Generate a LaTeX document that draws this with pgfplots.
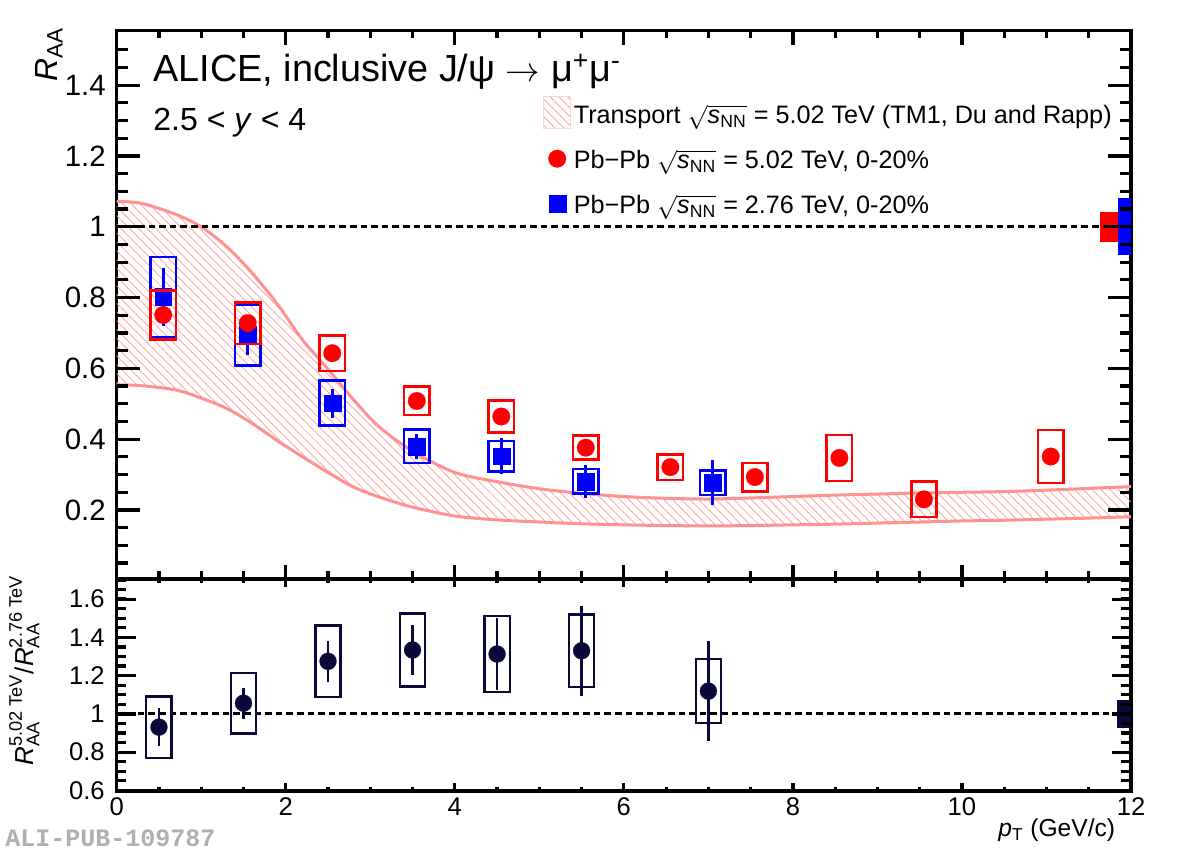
\documentclass[border=0pt]{standalone}
\usepackage{fontspec}
\setmainfont{Liberation Sans}
\newfontfamily\alimono{Liberation Mono}
\usepackage{amsmath}
\usepackage{pgfplots}
\pgfplotsset{compat=1.18}
\usepackage{pgfplotstable}
\usepgfplotslibrary{fillbetween}
\usetikzlibrary{patterns.meta}
\definecolor{band}{RGB}{255,145,145}
\definecolor{hatch}{RGB}{255,150,150}
\definecolor{navy}{RGB}{10,10,58}
\definecolor{aligray}{RGB}{175,175,175}

\pgfplotstableread{
x y
0 1.072
0.3 1.066
0.7 1.035
1.0 1.0
1.3 0.944
1.6 0.870
1.9 0.782
2.2 0.680
2.5 0.598
2.8 0.512
3.1 0.436
3.5 0.366
4.0 0.306
4.5 0.280
5.0 0.260
5.5 0.247
6.0 0.238
6.5 0.233
7.0 0.231
7.5 0.234
8.0 0.238
8.5 0.242
9.0 0.245
9.5 0.248
10.0 0.250
10.5 0.252
11.0 0.256
11.5 0.261
12.0 0.266
}\tabUpper

\pgfplotstableread{
x y
0 0.554
0.3 0.551
0.7 0.539
1.0 0.516
1.3 0.487
1.6 0.445
1.9 0.396
2.2 0.350
2.5 0.306
2.8 0.265
3.1 0.237
3.5 0.208
4.0 0.183
4.5 0.172
5.0 0.166
5.5 0.161
6.0 0.158
6.5 0.156
7.0 0.155
7.5 0.156
8.0 0.158
8.5 0.160
9.0 0.163
9.5 0.166
10.0 0.169
10.5 0.171
11.0 0.174
11.5 0.177
12.0 0.181
}\tabLower

\pgfplotstableread{
x y stat sys
0.55 0.751 0.010 0.070
1.55 0.728 0.010 0.059
2.55 0.643 0.010 0.050
3.55 0.508 0.010 0.040
4.55 0.464 0.010 0.045
5.55 0.376 0.010 0.034
6.55 0.321 0.010 0.036
7.55 0.293 0.010 0.040
8.55 0.347 0.015 0.065
9.55 0.230 0.015 0.050
11.05 0.351 0.018 0.075
}\tabRed

\pgfplotstableread{
x y stat sys
0.55 0.802 0.083 0.113
1.55 0.695 0.057 0.086
2.55 0.502 0.041 0.063
3.55 0.380 0.036 0.047
4.55 0.352 0.051 0.043
5.55 0.281 0.046 0.035
7.05 0.277 0.064 0.035
}\tabBlue

\pgfplotstableread{
x y stat sys
0.5 0.931 0.100 0.160
1.5 1.056 0.080 0.158
2.5 1.275 0.108 0.187
3.5 1.334 0.130 0.190
4.5 1.313 0.190 0.200
5.5 1.330 0.235 0.190
7.0 1.119 0.260 0.167
}\tabRatio

\tikzset{
  hatchpat/.style={pattern={Lines[angle=-45,distance=3.1pt,line width=0.35pt]}, pattern color=hatch},
  tickst/.style={black, line width=1.6pt},
}
\pgfplotsset{
  rootaxis/.style={
    scale only axis, width=507.15pt,
    xmin=0, xmax=12,
    axis line style={line width=1.7pt},
    xtick={0,2,...,12},
    major tick length=0pt, minor tick length=0pt,
    minor tick num=0,
    tick label style={/pgf/number format/assume math mode=true},
  },
  sysplot/.style n args={3}{
    #1, only marks, forget plot, scatter,
    visualization depends on={\thisrow{sys} \as \sys},
    scatter/@pre marker code/.code={%
      \draw[#1, line width=#3, solid] (axis direction cs:-#2,-\sys) rectangle (axis direction cs:#2,\sys);},
    scatter/@post marker code/.code={},
    mark options={line width=0.1pt},
  },
  dashone/.style={black, line width=1.5pt, dash pattern=on 3.3pt off 2pt, forget plot},
}

\begin{document}
\begin{tikzpicture}
% ---------------- top panel ----------------
\begin{axis}[rootaxis, at={(0,0)}, anchor=north west, height=274.15pt,
  ymin=0.005, ymax=1.554,
  ytick={0.2,0.4,0.6,0.8,1,1.2,1.4},
  xticklabels={},
  tick label style={font=\fontsize{14.7}{16}\selectfont},
  yticklabel style={xshift=-2pt},
  ylabel={\textit{R}\textsubscript{AA}},
  ylabel style={at={(axis description cs:-0.0585,1.007)}, anchor=base east, inner sep=0pt, font=\fontsize{16}{18}\selectfont},
  legend style={at={(0.4203,0.881)}, anchor=north west, draw=none, fill=none,
    inner sep=0pt, outer sep=0pt, row sep=3.7pt, column sep=0pt,
    font=\fontsize{12.6}{15}\selectfont,
    nodes={inner sep=1.5pt, text height=10pt, text depth=3.5pt}},
  legend cell align=left,
]
\addplot[name path=up, band, line width=1.5pt, smooth, forget plot] table[x=x,y=y] {\tabUpper};
\addplot[name path=low, band, line width=1.5pt, smooth, forget plot] table[x=x,y=y] {\tabLower};
\addplot[draw=none, hatchpat, forget plot] fill between[of=up and low];
% global uncertainties
\addplot[fill=red, draw=none, forget plot] coordinates {(11.63,0.958) (11.85,0.958) (11.85,1.042) (11.63,1.042)} --cycle;
\addplot[fill=blue, draw=none, forget plot] coordinates {(11.85,0.92) (12.1,0.92) (12.1,1.08) (11.85,1.08)} --cycle;
\addplot[dashone] coordinates {(0,1) (12,1)};
% data
\addplot[sysplot={blue}{0.15}{1.35pt}, mark=square*, mark size=4.2pt,
  error bars/.cd, y dir=both, y explicit, error mark=none, error bar style={line width=1.6pt}]
  table[x=x, y=y, y error=stat] {\tabBlue};
\addplot[sysplot={red}{0.15}{1.35pt}, mark=*, mark size=4.4pt,
  error bars/.cd, y dir=both, y explicit, error mark=none, error bar style={line width=1.6pt}]
  table[x=x, y=y, y error=stat] {\tabRed};
% text
\node[anchor=base west, inner sep=0pt, font=\fontsize{18.9}{22}\selectfont] at (axis description cs:0.0358,0.907) {ALICE, inclusive J/ψ $\rightarrow$ μ\textsuperscript{+}μ\textsuperscript{-}};
\node[anchor=base west, inner sep=0pt, font=\fontsize{16}{18}\selectfont] at (axis description cs:0.0358,0.8176) {2.5 < \textit{y} < 4};
% legend
\addlegendimage{legend image code/.code={\draw[hatchpat, draw=band!40, line width=0.4pt] (0pt,-5.35pt) rectangle (13.5pt,10.5pt);}}
\addlegendentry{Transport $\sqrt{\textit{s}_{\text{NN}}}$ = 5.02 TeV (TM1, Du and Rapp)}
\addlegendimage{legend image code/.code={\path[draw=none, fill=none] (0pt,-5.35pt) rectangle (13.5pt,10.5pt); \draw[red, mark=*, mark size=4.4pt, only marks, mark options={line width=0.1pt}] plot coordinates {(6.9pt,1.8pt)};}}
\addlegendentry{Pb−Pb $\sqrt{\textit{s}_{\text{NN}}}$ = 5.02 TeV, 0-20\%}
\addlegendimage{legend image code/.code={\path[draw=none, fill=none] (0pt,-5.35pt) rectangle (13.5pt,10.5pt); \draw[blue, mark=square*, mark size=4.2pt, only marks, mark options={line width=0.1pt}] plot coordinates {(6.9pt,1.8pt)};}}
\addlegendentry{Pb−Pb $\sqrt{\textit{s}_{\text{NN}}}$ = 2.76 TeV, 0-20\%}
\end{axis}
% ---------------- bottom panel ----------------
\begin{axis}[rootaxis, name=bot, at={(0,-274.15pt)}, anchor=north west, height=106pt,
  ymin=0.597, ymax=1.705,
  ytick={0.6,0.8,1,1.2,1.4,1.6},
  tick label style={font=\fontsize{12.8}{14}\selectfont},
  yticklabel style={xshift=-2.5pt},
  xlabel={\textit{p}\textsubscript{T} (GeV/c)},
  xlabel style={at={(axis description cs:1,0)}, anchor=base east, inner sep=0pt, xshift=-7.75pt, yshift=-22.8pt, font=\fontsize{12.3}{14}\selectfont},
  ylabel={$\textit{R}^{\text{5.02 TeV}}_{\text{AA}}\text{/}\textit{R}^{\text{2.76 TeV}}_{\text{AA}}$},
  ylabel style={at={(axis description cs:-0.0822,1.02)}, anchor=base east, inner sep=0pt, font=\fontsize{13}{15}\selectfont},
]
\addplot[fill=navy, draw=none, forget plot] coordinates {(11.84,0.925) (12.1,0.925) (12.1,1.075) (11.84,1.075)} --cycle;
\addplot[dashone] coordinates {(0,1) (12,1)};
\addplot[sysplot={navy}{0.15}{1.2pt}, mark=*, mark size=4.25pt,
  error bars/.cd, y dir=both, y explicit, error mark=none, error bar style={line width=1.2pt}]
  table[x=x, y=y, y error=stat] {\tabRatio};
\end{axis}
% ---------------- ROOT-style ticks, drawn on top of both panels ----------------
% top panel: y = -274.15pt + (v-0.005)*176.986pt ; x = v*42.2625pt
\foreach \v in {0.05,0.10,...,1.52}{
  \pgfmathsetmacro\Y{-274.15+(\v-0.005)*176.986}
  \fill[black] (0pt,\Y pt-0.8pt) rectangle (5.75pt,\Y pt+0.8pt);
  \fill[black] (507.15pt,\Y pt-0.8pt) rectangle (501.4pt,\Y pt+0.8pt);
}
\foreach \v in {0.2,0.4,...,1.42}{
  \pgfmathsetmacro\Y{-274.15+(\v-0.005)*176.986}
  \fill[black] (0pt,\Y pt-0.8pt) rectangle (11.5pt,\Y pt+0.8pt);
  \fill[black] (507.15pt,\Y pt-0.8pt) rectangle (495.65pt,\Y pt+0.8pt);
}
\foreach \v in {0.5,1.0,...,11.6}{
  \pgfmathsetmacro\X{\v*42.2625}
  \fill[black] (\X pt-0.8pt,-274.15pt) rectangle (\X pt+0.8pt,-270.3pt);
  \fill[black] (\X pt-0.8pt,0pt) rectangle (\X pt+0.8pt,-3.85pt);
  \fill[black] (\X pt-0.8pt,-380.15pt) rectangle (\X pt+0.8pt,-377.95pt);
  \fill[black] (\X pt-0.8pt,-274.15pt) rectangle (\X pt+0.8pt,-276.35pt);
}
\foreach \v in {2,4,...,10}{
  \pgfmathsetmacro\X{\v*42.2625}
  \fill[black] (\X pt-0.8pt,-274.15pt) rectangle (\X pt+0.8pt,-266.95pt);
  \fill[black] (\X pt-0.8pt,0pt) rectangle (\X pt+0.8pt,-7.2pt);
  \fill[black] (\X pt-0.8pt,-380.15pt) rectangle (\X pt+0.8pt,-376.25pt);
  \fill[black] (\X pt-0.8pt,-274.15pt) rectangle (\X pt+0.8pt,-278.05pt);
}
% bottom panel: y = -380.15pt + (v-0.597)*95.668pt
\foreach \v in {0.65,0.70,...,1.71}{
  \pgfmathsetmacro\Y{-380.15+(\v-0.597)*95.668}
  \fill[black] (0pt,\Y pt-0.8pt) rectangle (4.8pt,\Y pt+0.8pt);
  \fill[black] (507.15pt,\Y pt-0.8pt) rectangle (502.35pt,\Y pt+0.8pt);
}
\foreach \v in {0.8,1.0,...,1.62}{
  \pgfmathsetmacro\Y{-380.15+(\v-0.597)*95.668}
  \fill[black] (0pt,\Y pt-0.8pt) rectangle (9.6pt,\Y pt+0.8pt);
  \fill[black] (507.15pt,\Y pt-0.8pt) rectangle (497.55pt,\Y pt+0.8pt);
}
\node[anchor=base west, inner sep=0pt, xshift=-55.85pt, yshift=-27.5pt, font=\alimono\bfseries\fontsize{12.5}{14}\selectfont, text=aligray] at (bot.south west) {ALI-PUB-109787};
\pgfresetboundingbox
\path (-58.35pt,15.35pt) rectangle (532.65pt,-411.15pt);
\end{tikzpicture}
\end{document}
